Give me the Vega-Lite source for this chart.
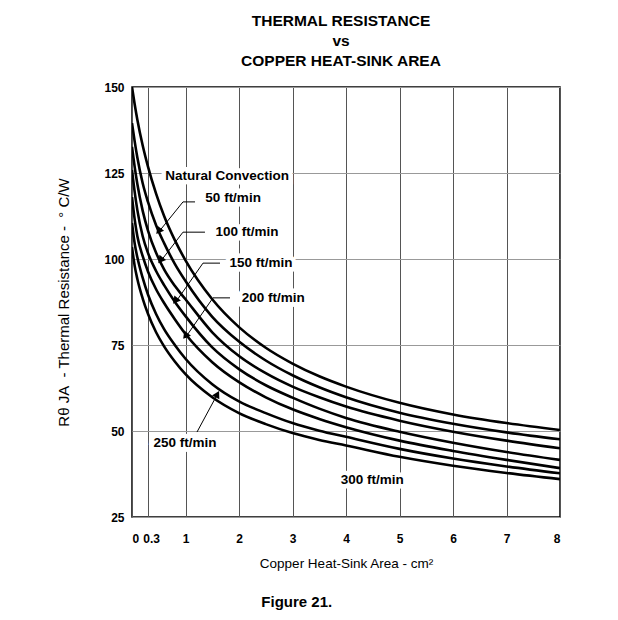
{
  "$schema": "https://vega.github.io/schema/vega-lite/v6.json",
  "autosize": "none",
  "width": 428,
  "height": 430,
  "padding": {"left": 132, "top": 87, "right": 58, "bottom": 103},
  "background": "white",
  "config": {
    "font": "Liberation Sans",
    "view": {"stroke": "black", "strokeWidth": 1.5},
    "axis": {"domain": false, "ticks": false, "tickSize": 0, "labelColor": "black", "titleColor": "black", "labelFont": "Liberation Sans", "titleFont": "Liberation Sans"}
  },
  "title": {
    "text": ["THERMAL RESISTANCE", "vs", "COPPER HEAT-SINK AREA"],
    "font": "Liberation Sans",
    "fontSize": 15.5,
    "fontWeight": "bold",
    "lineHeight": 20,
    "anchor": "middle",
    "dx": -5,
    "offset": 12,
    "color": "black"
  },
  "datasets": {
    "curves": [
      {"s": "Natural", "x": 0, "r": 150.0}, {"s": "Natural", "x": 0.05, "r": 145.0}, {"s": "Natural", "x": 0.1, "r": 140.5}, {"s": "Natural", "x": 0.2, "r": 133.0}, {"s": "Natural", "x": 0.3, "r": 126.8}, {"s": "Natural", "x": 0.45, "r": 119.0}, {"s": "Natural", "x": 0.6, "r": 112.5}, {"s": "Natural", "x": 0.8, "r": 105.5}, {"s": "Natural", "x": 1, "r": 99.6}, {"s": "Natural", "x": 1.5, "r": 88.3}, {"s": "Natural", "x": 2, "r": 80.2}, {"s": "Natural", "x": 2.5, "r": 74.2}, {"s": "Natural", "x": 3, "r": 69.6}, {"s": "Natural", "x": 3.5, "r": 65.9}, {"s": "Natural", "x": 4, "r": 62.9}, {"s": "Natural", "x": 5, "r": 58.2}, {"s": "Natural", "x": 6, "r": 54.8}, {"s": "Natural", "x": 7, "r": 52.3}, {"s": "Natural", "x": 8, "r": 50.3},
      {"s": "50", "x": 0, "r": 139.5}, {"s": "50", "x": 0.05, "r": 134.2}, {"s": "50", "x": 0.1, "r": 129.5}, {"s": "50", "x": 0.2, "r": 122.0}, {"s": "50", "x": 0.3, "r": 116.5}, {"s": "50", "x": 0.45, "r": 109.8}, {"s": "50", "x": 0.6, "r": 104.6}, {"s": "50", "x": 0.8, "r": 98.6}, {"s": "50", "x": 1, "r": 93.6}, {"s": "50", "x": 1.5, "r": 83.2}, {"s": "50", "x": 2, "r": 76.0}, {"s": "50", "x": 2.5, "r": 70.5}, {"s": "50", "x": 3, "r": 66.2}, {"s": "50", "x": 3.5, "r": 62.7}, {"s": "50", "x": 4, "r": 59.8}, {"s": "50", "x": 5, "r": 55.3}, {"s": "50", "x": 6, "r": 52.1}, {"s": "50", "x": 7, "r": 49.6}, {"s": "50", "x": 8, "r": 47.6},
      {"s": "100", "x": 0, "r": 132.6}, {"s": "100", "x": 0.05, "r": 126.8}, {"s": "100", "x": 0.1, "r": 121.8}, {"s": "100", "x": 0.2, "r": 114.0}, {"s": "100", "x": 0.3, "r": 108.2}, {"s": "100", "x": 0.45, "r": 101.8}, {"s": "100", "x": 0.6, "r": 97.0}, {"s": "100", "x": 0.8, "r": 92.2}, {"s": "100", "x": 1, "r": 88.3}, {"s": "100", "x": 1.5, "r": 78.7}, {"s": "100", "x": 2, "r": 71.8}, {"s": "100", "x": 2.5, "r": 66.8}, {"s": "100", "x": 3, "r": 62.9}, {"s": "100", "x": 3.5, "r": 59.8}, {"s": "100", "x": 4, "r": 57.1}, {"s": "100", "x": 5, "r": 53.0}, {"s": "100", "x": 6, "r": 49.8}, {"s": "100", "x": 7, "r": 47.2}, {"s": "100", "x": 8, "r": 45.0},
      {"s": "150", "x": 0, "r": 125.9}, {"s": "150", "x": 0.05, "r": 119.5}, {"s": "150", "x": 0.1, "r": 114.2}, {"s": "150", "x": 0.2, "r": 106.6}, {"s": "150", "x": 0.3, "r": 101.7}, {"s": "150", "x": 0.45, "r": 96.5}, {"s": "150", "x": 0.6, "r": 92.4}, {"s": "150", "x": 0.8, "r": 87.6}, {"s": "150", "x": 1, "r": 83.4}, {"s": "150", "x": 1.5, "r": 74.3}, {"s": "150", "x": 2, "r": 68.0}, {"s": "150", "x": 2.5, "r": 63.3}, {"s": "150", "x": 3, "r": 59.7}, {"s": "150", "x": 3.5, "r": 56.5}, {"s": "150", "x": 4, "r": 53.8}, {"s": "150", "x": 5, "r": 49.8}, {"s": "150", "x": 6, "r": 46.6}, {"s": "150", "x": 7, "r": 43.9}, {"s": "150", "x": 8, "r": 41.6},
      {"s": "200", "x": 0, "r": 118.0}, {"s": "200", "x": 0.05, "r": 111.5}, {"s": "200", "x": 0.1, "r": 106.6}, {"s": "200", "x": 0.2, "r": 100.8}, {"s": "200", "x": 0.3, "r": 96.3}, {"s": "200", "x": 0.45, "r": 91.2}, {"s": "200", "x": 0.6, "r": 87.2}, {"s": "200", "x": 0.8, "r": 82.5}, {"s": "200", "x": 1, "r": 78.2}, {"s": "200", "x": 1.5, "r": 70.0}, {"s": "200", "x": 2, "r": 64.2}, {"s": "200", "x": 2.5, "r": 59.8}, {"s": "200", "x": 3, "r": 56.3}, {"s": "200", "x": 3.5, "r": 53.5}, {"s": "200", "x": 4, "r": 51.1}, {"s": "200", "x": 5, "r": 47.2}, {"s": "200", "x": 6, "r": 44.2}, {"s": "200", "x": 7, "r": 41.6}, {"s": "200", "x": 8, "r": 39.2},
      {"s": "250", "x": 0, "r": 110.5}, {"s": "250", "x": 0.05, "r": 104.5}, {"s": "250", "x": 0.1, "r": 100.5}, {"s": "250", "x": 0.2, "r": 94.5}, {"s": "250", "x": 0.3, "r": 89.6}, {"s": "250", "x": 0.45, "r": 84.0}, {"s": "250", "x": 0.6, "r": 79.6}, {"s": "250", "x": 0.8, "r": 75.0}, {"s": "250", "x": 1, "r": 71.0}, {"s": "250", "x": 1.5, "r": 63.6}, {"s": "250", "x": 2, "r": 58.6}, {"s": "250", "x": 2.5, "r": 55.2}, {"s": "250", "x": 3, "r": 52.3}, {"s": "250", "x": 3.5, "r": 50.1}, {"s": "250", "x": 4, "r": 48.3}, {"s": "250", "x": 5, "r": 44.8}, {"s": "250", "x": 6, "r": 42.0}, {"s": "250", "x": 7, "r": 39.7}, {"s": "250", "x": 8, "r": 37.7},
      {"s": "300", "x": 0, "r": 103.5}, {"s": "300", "x": 0.05, "r": 98.0}, {"s": "300", "x": 0.1, "r": 94.2}, {"s": "300", "x": 0.2, "r": 88.5}, {"s": "300", "x": 0.3, "r": 84.0}, {"s": "300", "x": 0.45, "r": 78.7}, {"s": "300", "x": 0.6, "r": 74.6}, {"s": "300", "x": 0.8, "r": 70.2}, {"s": "300", "x": 1, "r": 66.5}, {"s": "300", "x": 1.5, "r": 59.8}, {"s": "300", "x": 2, "r": 55.2}, {"s": "300", "x": 2.5, "r": 52.0}, {"s": "300", "x": 3, "r": 49.4}, {"s": "300", "x": 3.5, "r": 47.4}, {"s": "300", "x": 4, "r": 45.8}, {"s": "300", "x": 5, "r": 42.5}, {"s": "300", "x": 6, "r": 39.9}, {"s": "300", "x": 7, "r": 37.8}, {"s": "300", "x": 8, "r": 36.0}
    ],
    "leaders": [
      {"id": "50", "k": 1, "x": 1.178, "r": 116.6}, {"id": "50", "k": 2, "x": 0.953, "r": 116.6}, {"id": "50", "k": 3, "x": 0.486, "r": 107.6},
      {"id": "100", "k": 1, "x": 1.364, "r": 107.8}, {"id": "100", "k": 2, "x": 0.953, "r": 107.8}, {"id": "100", "k": 3, "x": 0.523, "r": 99.1},
      {"id": "150", "k": 1, "x": 1.645, "r": 98.8}, {"id": "150", "k": 2, "x": 1.327, "r": 98.8}, {"id": "150", "k": 3, "x": 0.804, "r": 87.2},
      {"id": "200", "k": 1, "x": 1.832, "r": 88.7}, {"id": "200", "k": 2, "x": 1.514, "r": 88.7}, {"id": "200", "k": 3, "x": 0.991, "r": 77.0},
      {"id": "250", "k": 1, "x": 1.215, "r": 49.7}, {"id": "250", "k": 2, "x": 1.607, "r": 61.0}
    ],
    "arrows": [
      {"id": "50", "x": 0.51, "r": 108.4},
      {"id": "100", "x": 0.547, "r": 99.9},
      {"id": "150", "x": 0.825, "r": 88.1},
      {"id": "200", "x": 1.012, "r": 77.9},
      {"id": "250", "x": 1.585, "r": 60.4}
    ],
    "labels": [
      {"t": "Natural Convection", "x": 1.78, "r": 124.1},
      {"t": "50 ft/min", "x": 1.89, "r": 117.7},
      {"t": "100 ft/min", "x": 2.15, "r": 107.8},
      {"t": "150 ft/min", "x": 2.41, "r": 98.8},
      {"t": "200 ft/min", "x": 2.64, "r": 88.7},
      {"t": "250 ft/min", "x": 0.99, "r": 46.5},
      {"t": "300 ft/min", "x": 4.49, "r": 35.8}
    ],
    "caption": [{"t": "Figure 21.", "x": 3.08, "r": 0.3}]
  },
  "layer": [
    {
      "data": {"name": "curves"},
      "mark": {"type": "line", "interpolate": "monotone", "color": "black", "strokeWidth": 2.6, "clip": true},
      "encoding": {
        "x": {
          "field": "x", "type": "quantitative",
          "scale": {"domain": [0, 8], "nice": false, "zero": false},
          "axis": {
            "values": [0, 0.3, 1, 2, 3, 4, 5, 6, 7, 8],
            "labelExpr": "datum.value == 0.3 ? '0.3' : format(datum.value, 'd')",
            "labelOffset": {"condition": {"test": "datum.value == 0.3", "value": 3}, "value": 0},
            "labelFontSize": 12, "labelFontWeight": "bold", "labelPadding": 16,
            "grid": true, "gridColor": "#555555", "gridWidth": 1,
            "title": "Copper Heat-Sink Area - cm²", "titleFontSize": 13.5, "titleFontWeight": "normal", "titlePadding": 12
          }
        },
        "y": {
          "field": "r", "type": "quantitative",
          "scale": {"domain": [25, 150], "nice": false, "zero": false},
          "axis": {
            "values": [25, 50, 75, 100, 125, 150],
            "labelFontSize": 12, "labelFontWeight": "bold", "labelPadding": 8,
            "grid": true, "gridColor": "#999999", "gridWidth": 1,
            "title": "Rθ JA\u00a0\u00a0- Thermal Resistance -\u00a0\u00a0° C/W", "titleFontSize": 15, "titleFontWeight": "normal", "titlePadding": 32
          }
        },
        "detail": {"field": "s"}
      }
    },
    {
      "data": {"name": "leaders"},
      "mark": {"type": "line", "color": "black", "strokeWidth": 1},
      "encoding": {
        "x": {"field": "x", "type": "quantitative"},
        "y": {"field": "r", "type": "quantitative"},
        "detail": {"field": "id"},
        "order": {"field": "k"}
      }
    },
    {
      "data": {"name": "arrows"},
      "transform": [{"filter": "datum.id != '250'"}],
      "mark": {"type": "point", "shape": "triangle", "filled": true, "color": "black", "opacity": 1, "size": 70, "angle": 218},
      "encoding": {
        "x": {"field": "x", "type": "quantitative"},
        "y": {"field": "r", "type": "quantitative"}
      }
    },
    {
      "data": {"name": "arrows"},
      "transform": [{"filter": "datum.id == '250'"}],
      "mark": {"type": "point", "shape": "triangle", "filled": true, "color": "black", "opacity": 1, "size": 70, "angle": 28},
      "encoding": {
        "x": {"field": "x", "type": "quantitative"},
        "y": {"field": "r", "type": "quantitative"}
      }
    },
    {
      "data": {"name": "labels"},
      "mark": {"type": "text", "font": "Liberation Sans", "fontSize": 13.5, "fontWeight": "bold", "stroke": "white", "strokeWidth": 9, "fill": "white", "align": "center", "baseline": "middle"},
      "encoding": {
        "x": {"field": "x", "type": "quantitative"},
        "y": {"field": "r", "type": "quantitative"},
        "text": {"field": "t"}
      }
    },
    {
      "data": {"name": "labels"},
      "mark": {"type": "text", "font": "Liberation Sans", "fontSize": 13.5, "fontWeight": "bold", "color": "black", "align": "center", "baseline": "middle"},
      "encoding": {
        "x": {"field": "x", "type": "quantitative"},
        "y": {"field": "r", "type": "quantitative"},
        "text": {"field": "t"}
      }
    },
    {
      "data": {"name": "caption"},
      "mark": {"type": "text", "font": "Liberation Sans", "fontSize": 15, "fontWeight": "bold", "color": "black", "align": "center", "baseline": "middle", "clip": false},
      "encoding": {
        "x": {"field": "x", "type": "quantitative"},
        "y": {"field": "r", "type": "quantitative"},
        "text": {"field": "t"}
      }
    }
  ]
}
